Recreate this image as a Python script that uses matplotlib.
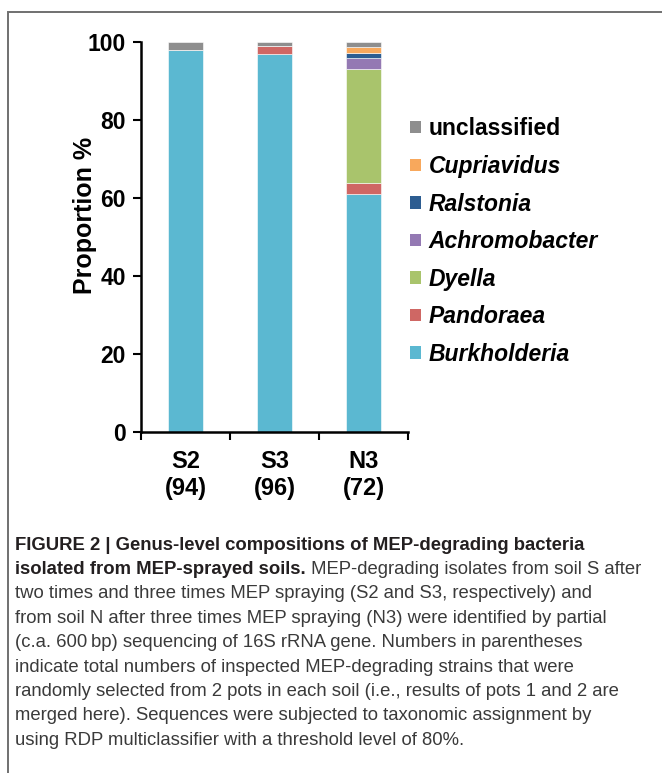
import matplotlib.pyplot as plt
from matplotlib.patches import Rectangle, Patch

# data
samples = ["S2\n(94)", "S3\n(96)", "N3\n(72)"]
genera = ["Burkholderia", "Pandoraea", "Dyella", "Achromobacter",
          "Ralstonia", "Cupriavidus", "unclassified"]
colors = ["#5bb8d1", "#cf6764", "#a9c46c", "#9479b3",
          "#2d5d91", "#f8a85c", "#8e8e8e"]
burkholderia = [97.9, 96.9, 61.1]
pandoraea = [0.0, 2.1, 2.8]
dyella = [0.0, 0.0, 29.2]
achromobacter = [0.0, 0.0, 2.8]
ralstonia = [0.0, 0.0, 1.4]
cupriavidus = [0.0, 0.0, 1.4]
unclassified = [2.1, 1.0, 1.3]
series = [burkholderia, pandoraea, dyella, achromobacter,
          ralstonia, cupriavidus, unclassified]

caption = [
    ("FIGURE 2 | Genus-level compositions of MEP-degrading bacteria", None),
    ("isolated from MEP-sprayed soils.", " MEP-degrading isolates from soil S after"),
    (None, "two times and three times MEP spraying (S2 and S3, respectively) and"),
    (None, "from soil N after three times MEP spraying (N3) were identified by partial"),
    (None, "(c.a. 600\u2009bp) sequencing of 16S rRNA gene. Numbers in parentheses"),
    (None, "indicate total numbers of inspected MEP-degrading strains that were"),
    (None, "randomly selected from 2 pots in each soil (i.e., results of pots 1 and 2 are"),
    (None, "merged here). Sequences were subjected to taxonomic assignment by"),
    (None, "using RDP multiclassifier with a threshold level of 80%."),
]

plt.rcParams['font.family'] = ['Liberation Sans', 'DejaVu Sans']

W, H = 662, 773
fig = plt.figure(figsize=(W / 100, H / 100), dpi=100)

# frame around figure panel (only top and left edges are inside the image)
fig.patches.append(Rectangle((8 / W, -0.1), 1.2, 1.1 - 12 / H,
                             transform=fig.transFigure, fill=False,
                             edgecolor="#707070", lw=1.4))

ax = fig.add_axes([141 / W, 1 - 432 / H, (408 - 141) / W, (432 - 42) / H])
x = list(range(len(samples)))
bottom = [0.0] * len(samples)
for name, vals, c in zip(genera, series, colors):
    ax.bar(x, vals, width=0.4, bottom=bottom, color=c, label=name,
           edgecolor="white", linewidth=0.4)
    bottom = [b + v for b, v in zip(bottom, vals)]

ax.set_xlim(-0.5, 2.5)
ax.set_ylim(0, 100)
ax.set_yticks([0, 20, 40, 60, 80, 100])
ax.set_xticks(x)
ax.set_xticklabels(samples, fontsize=17, fontweight="bold", linespacing=1.2)
ax.set_xticks([-0.5, 0.5, 1.5, 2.5], minor=True)
ax.tick_params(axis="x", which="major", length=0, pad=13)
ax.tick_params(axis="x", which="minor", direction="out", length=6, width=1.5)
ax.tick_params(axis="y", direction="out", length=6, width=1.5, pad=5,
               labelsize=16.5)
for lab in ax.get_yticklabels():
    lab.set_fontweight("bold")
for s in ["top", "right"]:
    ax.spines[s].set_visible(False)
for s in ["left", "bottom"]:
    ax.spines[s].set_linewidth(1.8)
ax.set_ylabel("Proportion %", fontsize=18, fontweight="bold")
ax.yaxis.set_label_coords(-0.165, 0.555)

handles = [Patch(facecolor=c, edgecolor="none") for c in colors][::-1]
leg = fig.legend(handles, genera[::-1], loc="upper left",
                 bbox_to_anchor=(399 / W, 1 - 106 / H), frameon=False,
                 fontsize=16.5, handlelength=0.45, handleheight=0.45,
                 handletextpad=0.35, labelspacing=0.635, borderpad=0)
for t in leg.get_texts():
    t.set_fontweight("bold")
    if t.get_text() != "unclassified":
        t.set_style("italic")

cap_font = ['Liberation Sans', 'DejaVu Sans']
y0 = 545
for i, (bold, reg) in enumerate(caption):
    y = 1 - (y0 + i * 24.4) / H
    if bold:
        tb = fig.text(15 / W, y, bold, family=cap_font, fontsize=13.3,
                      fontweight="bold", color="#231f20", va="center")
        if reg:
            ax.annotate(reg, xy=(1, 0.5), xycoords=tb, va="center",
                        ha="left", family=cap_font, fontsize=13.3,
                        color="#3a3a3a", annotation_clip=False)
    else:
        fig.text(15 / W, y, reg, family=cap_font, fontsize=13.3,
                 color="#3a3a3a", va="center")

fig.savefig("out.png", dpi=100)
